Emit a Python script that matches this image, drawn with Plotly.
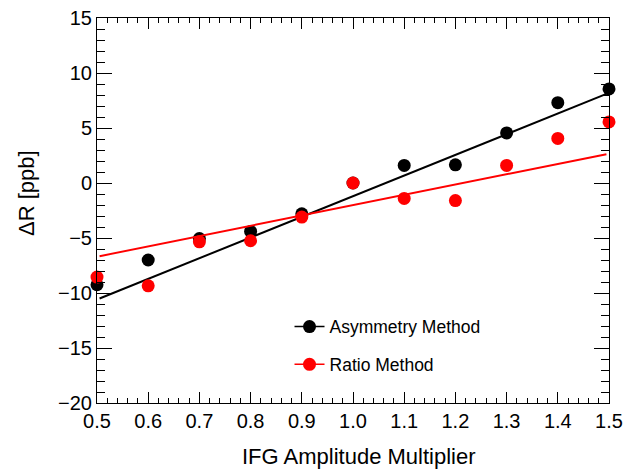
import plotly.graph_objects as go

# Data
multiplier = [0.5, 0.6, 0.7, 0.8, 0.9, 1.0, 1.1, 1.2, 1.3, 1.4, 1.5]
asym_dR = [-9.25, -7.0, -5.05, -4.4, -2.8, 0.0, 1.6, 1.65, 4.55, 7.3, 8.55]
ratio_dR = [-8.55, -9.35, -5.35, -5.25, -3.1, 0.0, -1.4, -1.6, 1.6, 4.05, 5.55]

fit_x = [0.505, 1.495]
asym_fit = [-10.5, 8.1]
ratio_fit = [-6.65, 2.62]

x_ticks = [0.5, 0.6, 0.7, 0.8, 0.9, 1.0, 1.1, 1.2, 1.3, 1.4, 1.5]
y_ticks = [-20, -15, -10, -5, 0, 5, 10, 15]

BLACK = "#000000"
RED = "#ff0000"
FONT = "Liberation Sans, Arial, Helvetica, sans-serif"
MS = 13

fig = go.Figure()
fig.add_trace(go.Scatter(x=multiplier, y=asym_dR, mode="markers", cliponaxis=False,
                         marker=dict(color=BLACK, size=MS), showlegend=False))
fig.add_trace(go.Scatter(x=fit_x, y=asym_fit, mode="lines",
                         line=dict(color=BLACK, width=2), showlegend=False))
fig.add_trace(go.Scatter(x=multiplier, y=ratio_dR, mode="markers", cliponaxis=False,
                         marker=dict(color=RED, size=MS), showlegend=False))
fig.add_trace(go.Scatter(x=fit_x, y=ratio_fit, mode="lines",
                         line=dict(color=RED, width=2), showlegend=False))
# legend entries
fig.add_trace(go.Scatter(x=[None], y=[None], mode="lines+markers", name="Asymmetry Method",
                         line=dict(color=BLACK, width=1.5), marker=dict(color=BLACK, size=MS),
                         legendgroup="a"))
fig.add_trace(go.Scatter(x=[None], y=[None], mode="lines+markers", name="Ratio Method",
                         line=dict(color=RED, width=1.5), marker=dict(color=RED, size=MS),
                         legendgroup="b"))

axis_common = dict(showline=True, linecolor="black", linewidth=1, mirror="allticks",
                   ticks="inside", tickcolor="black", tickwidth=1,
                   showgrid=False, zeroline=False, automargin=False,
                   tickfont=dict(family=FONT, size=20, color="black"))

fig.update_xaxes(range=[0.5, 1.5], tickvals=x_ticks, tickformat=".1f", ticklen=11,
                 minor=dict(dtick=0.02, ticklen=5, ticks="inside", tickcolor="black", showgrid=False),
                 **axis_common)
fig.update_yaxes(range=[-20, 15], tickvals=y_ticks, ticklen=15,
                 minor=dict(dtick=1, ticklen=8, ticks="inside", tickcolor="black", showgrid=False),
                 **axis_common)

fig.update_layout(
    width=634, height=470,
    margin=dict(l=97, r=25, t=18, b=67),
    plot_bgcolor="white", paper_bgcolor="white",
    font=dict(family=FONT, color="black"),
    legend=dict(x=0.376, y=0.245, xanchor="left", yanchor="top",
                bgcolor="rgba(0,0,0,0)", borderwidth=0,
                font=dict(family=FONT, size=17.5, color="black"),
                tracegroupgap=12),
    annotations=[
        dict(text="IFG Amplitude Multiplier", xref="paper", yref="paper",
             x=(358.5 - 97) / 512, y=-(471 - 403) / 385, xanchor="center", yanchor="bottom",
             showarrow=False, font=dict(family=FONT, size=22, color="black")),
        dict(text="\u0394R [ppb]", xref="paper", yref="paper",
             x=-(97 - 26) / 512, y=(403 - 193) / 385, xanchor="center", yanchor="middle",
             textangle=-90, showarrow=False, font=dict(family=FONT, size=22, color="black")),
    ],
)

fig.write_html("out.html", config={"displayModeBar": False},
               post_script="document.body.style.margin='0px';")
